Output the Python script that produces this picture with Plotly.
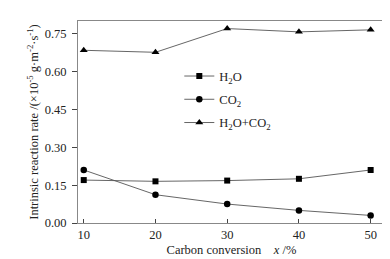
import plotly.graph_objects as go

conversion = [10, 20, 30, 40, 50]
h2o = [0.170, 0.165, 0.168, 0.175, 0.210]
co2 = [0.210, 0.112, 0.075, 0.050, 0.030]
h2o_co2 = [0.684, 0.676, 0.770, 0.757, 0.765]
y_ticks = [0.00, 0.15, 0.30, 0.45, 0.60, 0.75]
x_ticks = [10, 20, 30, 40, 50]

font = "Liberation Serif, Times New Roman, serif"
fig = go.Figure()
line = dict(color="#555555", width=0.9)
fig.add_trace(go.Scatter(x=conversion, y=h2o, mode="lines+markers", name="H<sub>2</sub>O", legendgroup="a",
                         line=line, marker=dict(symbol="square", size=6, color="black")))
fig.add_trace(go.Scatter(x=conversion, y=co2, mode="lines+markers", name="CO<sub>2</sub>", legendgroup="b",
                         line=line, marker=dict(symbol="circle", size=6.5, color="black")))
fig.add_trace(go.Scatter(x=conversion, y=h2o_co2, mode="lines+markers", name="H<sub>2</sub>O+CO<sub>2</sub>",
                         legendgroup="c",
                         line=line, marker=dict(symbol="triangle-up", size=7, color="black")))

fig.update_layout(
    width=390, height=259,
    margin=dict(l=70, r=12, t=12, b=39),
    plot_bgcolor="white", paper_bgcolor="white",
    font=dict(family=font, size=12, color="#222222"),
    showlegend=True,
    legend=dict(x=0.33, y=0.80, xanchor="left", yanchor="top", bgcolor="rgba(0,0,0,0)",
                font=dict(size=12.5), tracegroupgap=4, itemwidth=30),
)
fig.update_xaxes(range=[9.2, 52.0], tickvals=x_ticks, ticks="inside", ticklen=4,
                 showline=True, linecolor="#888888", mirror=True, showgrid=False, zeroline=False,
                 title=dict(text="Carbon conversion    <i>x</i> /%", font=dict(size=12.5), standoff=4),
                 tickfont=dict(size=12.5))
fig.update_yaxes(range=[0, 0.8], tickvals=y_ticks, tickformat=".2f", ticks="outside", ticklen=5,
                 ticklabelstandoff=3,
                 showline=True, linecolor="#888888", mirror=True, showgrid=False, zeroline=False,
                 title=dict(text="Intrinsic reaction rate /(×10<sup>-5</sup> g·m<sup>-2</sup>·s<sup>-1</sup>)",
                            font=dict(size=12.5), standoff=3),
                 tickfont=dict(size=12.5))
fig.write_html("out.html")
